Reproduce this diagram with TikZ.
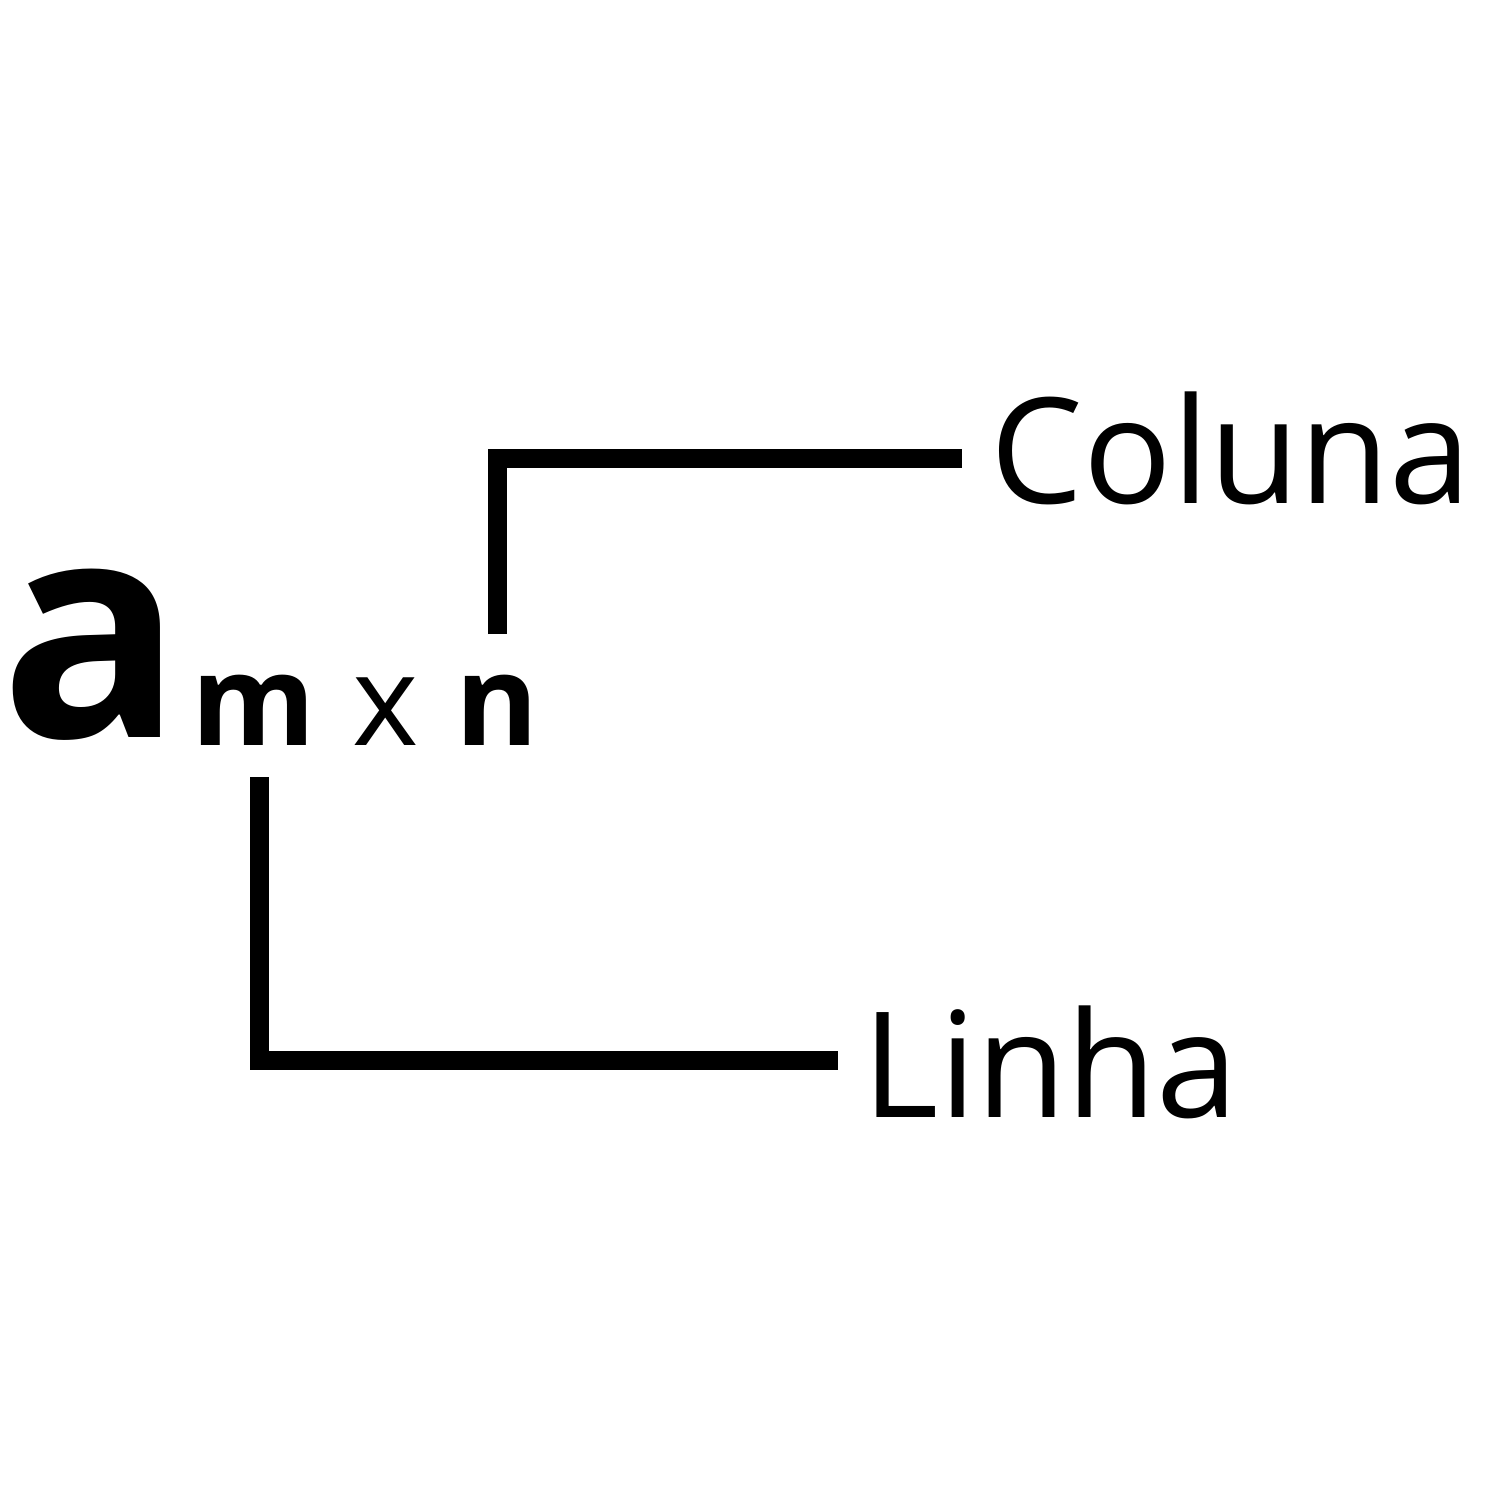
\documentclass[tikz,border=0pt]{standalone}
\usepackage{fontspec}
\setmainfont{Open Sans}
\begin{document}
\begin{tikzpicture}[x=0.01cm,y=-0.01cm,
  lbl/.style={inner sep=0pt,anchor=base west,font=\fontsize{41.8}{50}\selectfont},
  conn/.style={line width=0.19cm,line join=miter,line cap=butt}]
\useasboundingbox (0,0) rectangle (1500,1500);
\node[inner sep=0pt,anchor=base west,font=\fontsize{86}{100}\selectfont\bfseries] (a) at (0,737) {a};
\node[inner sep=0pt,anchor=base west,font=\fontsize{36}{44}\selectfont] (sub) at (191,745) {\textbf{m}\hspace{0.04cm} x\hspace{0.03cm} \textbf{n}};
\node[lbl] (coluna) at (990,503) {Coluna};
\node[lbl] (linha) at (862,1117) {Linha};
\coordinate (cstart) at (497.5,634);
\coordinate (cend) at (962,458.5);
\coordinate (lstart) at (259.5,777);
\coordinate (lend) at (838,1060.5);
\draw[conn] (cstart) |- (cend);
\draw[conn] (lstart) |- (lend);
\end{tikzpicture}
\end{document}
